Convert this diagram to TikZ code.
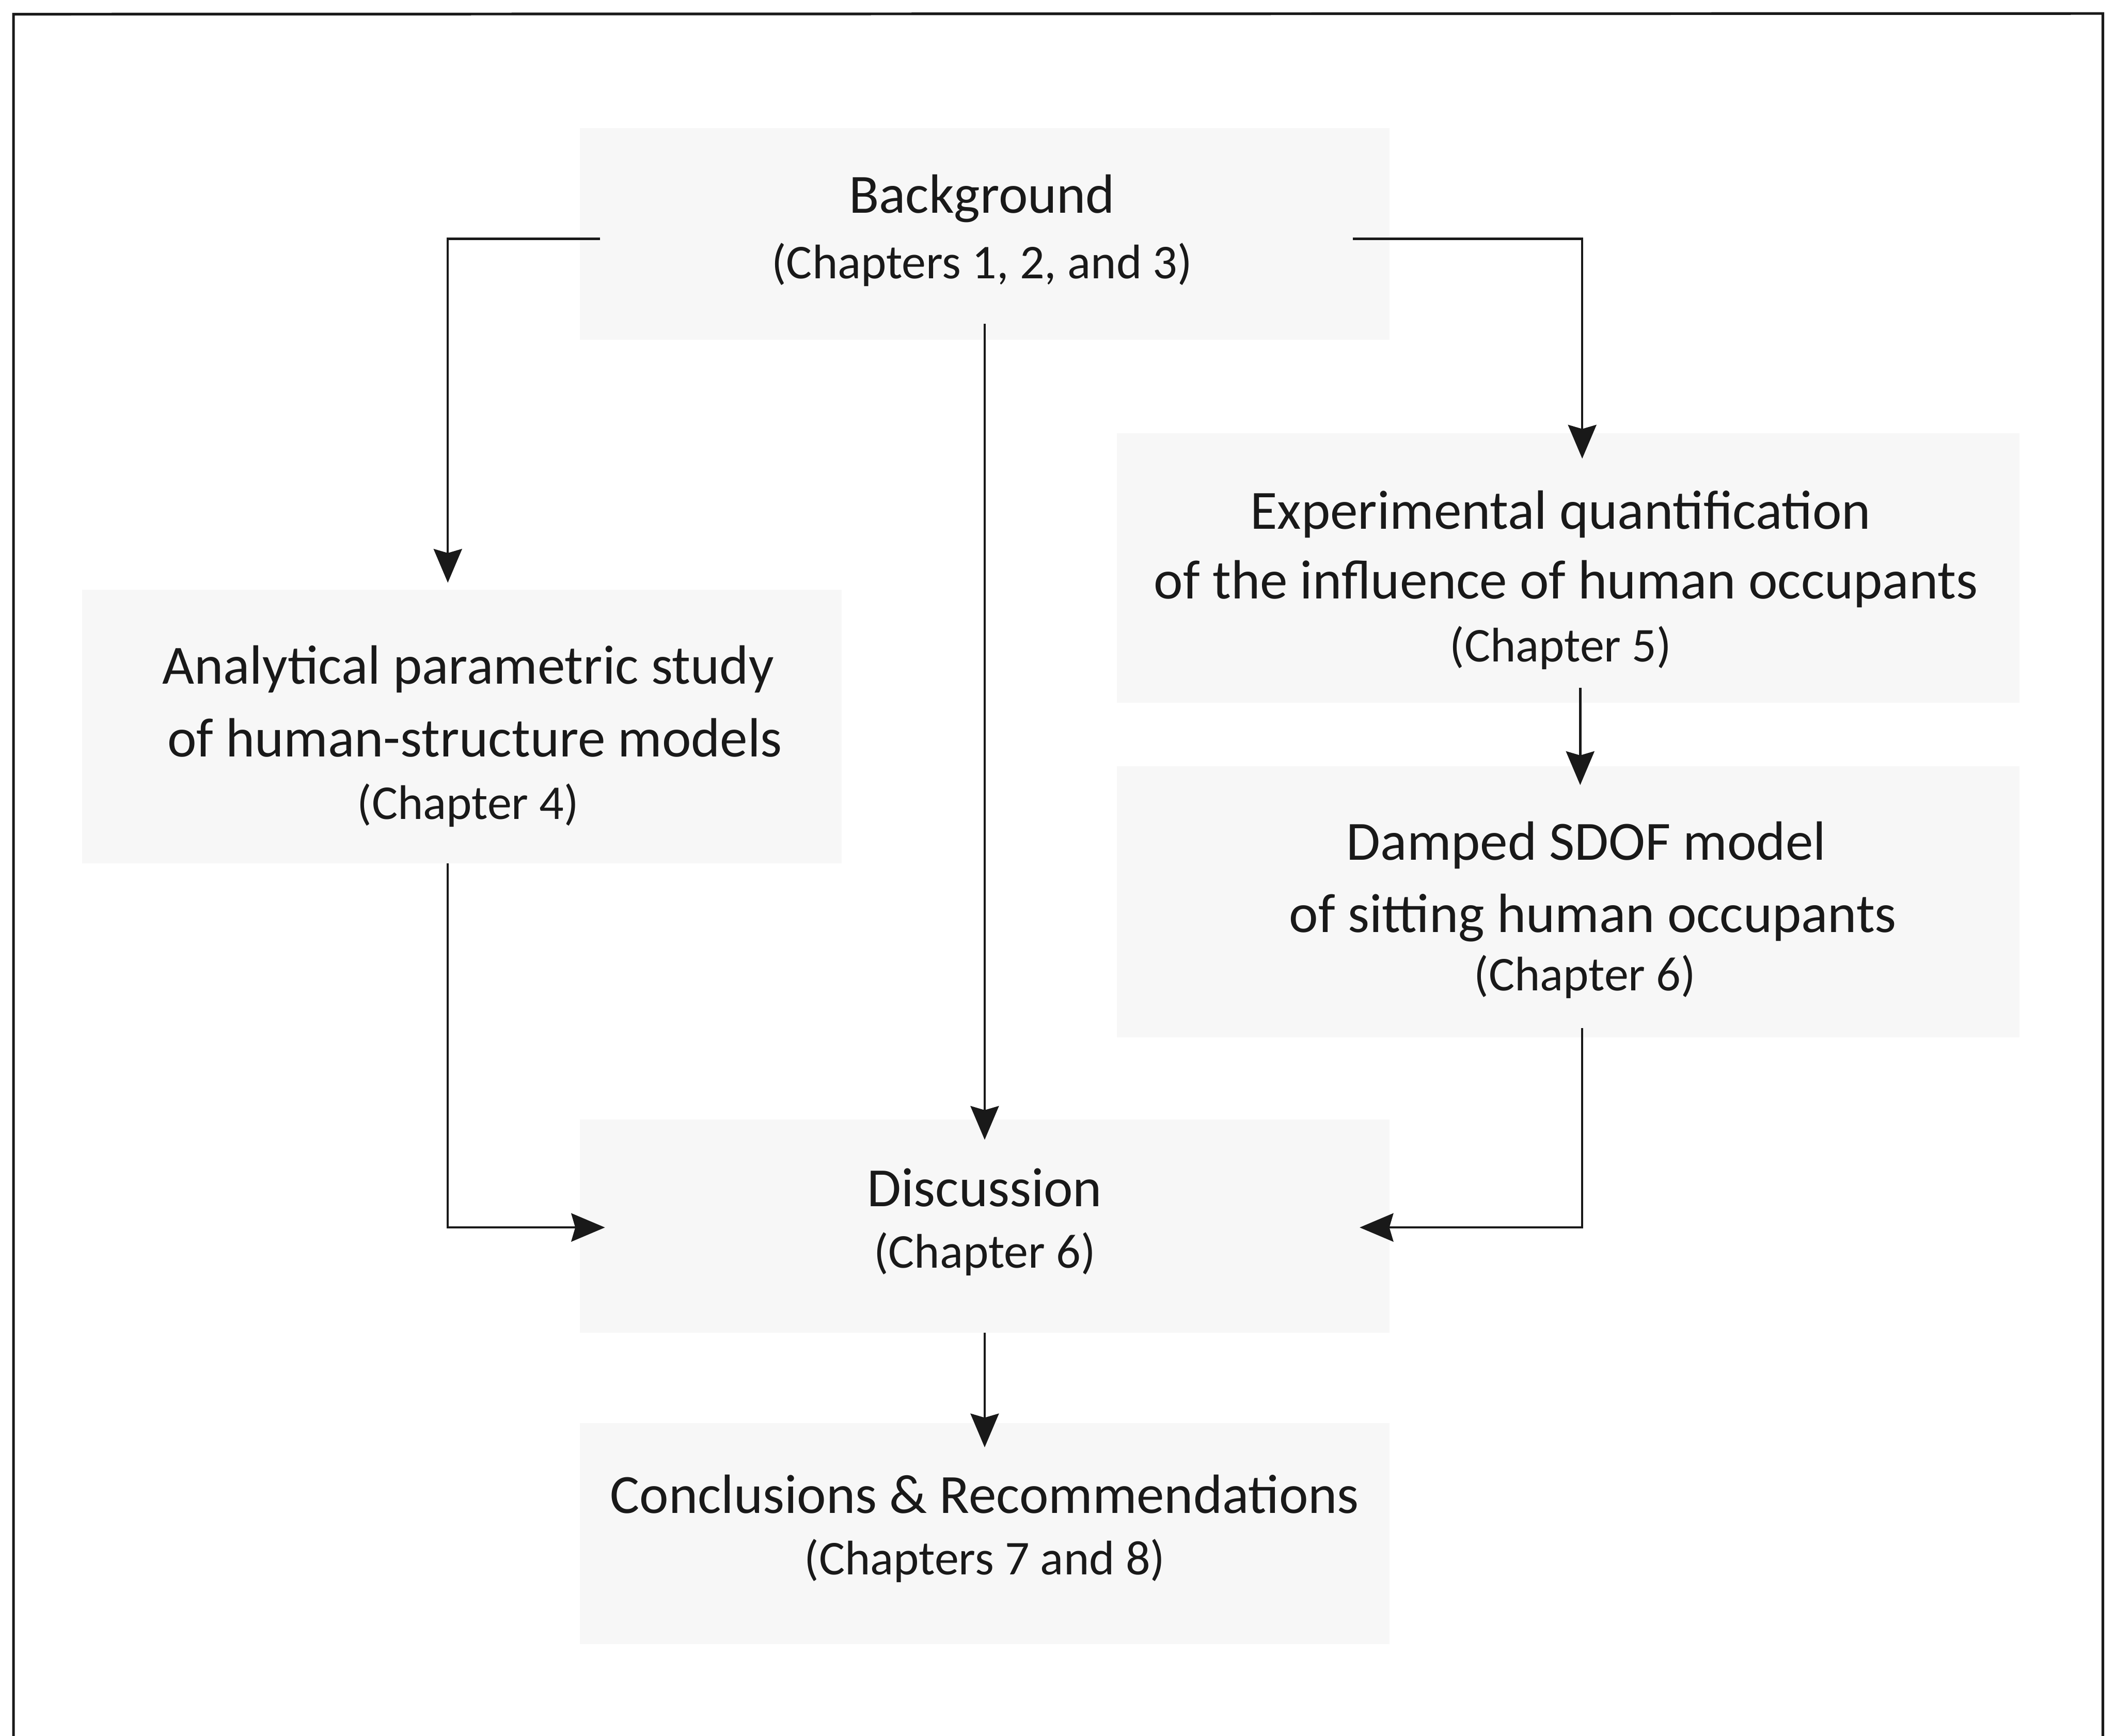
\documentclass[tikz,border=0pt]{standalone}
\usepackage{fontspec}
\setmainfont{Carlito}
\usetikzlibrary{arrows.meta,calc}
\definecolor{boxgray}{RGB}{247,247,247}
\definecolor{inkc}{RGB}{25,25,25}
\tikzset{
  boxnode/.style={draw=none,fill=boxgray,inner sep=0pt,outer sep=0pt},
  mainlbl/.style={inner sep=0pt,anchor=base,text=inkc,font=\fontsize{41}{41}\selectfont},
  chaplbl/.style={inner sep=0pt,anchor=base,text=inkc,font=\fontsize{36}{36}\selectfont},
  conn/.style={draw=inkc,line width=1.7pt,-{Stealth[length=25pt,width=21pt,inset=3pt]}},
  frameline/.style={draw=inkc,line width=2pt}
}
\begin{document}
\begin{tikzpicture}[x=1pt,y=-1pt]
\useasboundingbox (0,0) rectangle (1568,1287);
% frame (open at the bottom)
\draw[frameline] (10,1295) -- (10,10.5) -- (1559,10) -- (1559,1295);
% boxes
\node[boxnode,minimum width=600pt,minimum height=157pt] (bg)  at (730,173.5) {};
\node[boxnode,minimum width=563pt,minimum height=203pt] (ana) at (342.5,538.5) {};
\node[boxnode,minimum width=669pt,minimum height=200pt] (exp) at (1162.5,421) {};
\node[boxnode,minimum width=669pt,minimum height=201pt] (dmp) at (1162.5,668.5) {};
\node[boxnode,minimum width=600pt,minimum height=158pt] (dis) at (730,909) {};
\node[boxnode,minimum width=600pt,minimum height=164pt] (con) at (730,1137) {};
% texts
\node[mainlbl] (bgA) at (728,158) {Background};
\node[chaplbl] (bgB) at (728,206.5) {(Chapters 1, 2, and 3)};
\node[mainlbl] (anaA) at (347,507) {Analytical parametric study};
\node[mainlbl] (anaB) at (352,561) {of human-structure models};
\node[chaplbl] (anaC) at (347,607.5) {(Chapter 4)};
\node[mainlbl] (expA) at (1157,392) {Experimental quantification};
\node[mainlbl] (expB) at (1161,444) {of the influence of human occupants};
\node[chaplbl] (expC) at (1157,490.5) {(Chapter 5)};
\node[mainlbl] (dmpA) at (1176,637.5) {Damped SDOF model};
\node[mainlbl] (dmpB) at (1181,691) {of sitting human occupants};
\node[chaplbl] (dmpC) at (1175,734.5) {(Chapter 6)};
\node[mainlbl] (disA) at (730,894.5) {Discussion};
\node[chaplbl] (disB) at (730,940) {(Chapter 6)};
\node[mainlbl] (conA) at (730,1122) {Conclusions \& Recommendations};
\node[chaplbl] (conB) at (730,1167.5) {(Chapters 7 and 8)};
% connectors
\draw[conn] ([shift={(15,3.5)}]bg.west) -| ([shift={(-10.5,-5)}]ana.north);
\draw[conn] ([shift={(-27,3.5)}]bg.east) -| ([shift={(10.5,19)}]exp.north);
\draw[conn] ([shift={(0,-12)}]bg.south) -- ([shift={(0,15)}]dis.north);
\draw[conn] ([shift={(-10.5,0)}]ana.south) |- ([shift={(18.5,1)}]dis.west);
\draw[conn] ([shift={(10.5,-7)}]dmp.south) |- ([shift={(-22,1)}]dis.east);
\draw[conn] ([shift={(9,-11)}]exp.south) -- ([shift={(9,14)}]dmp.north);
\draw[conn] (dis.south) -- ([shift={(0,18)}]con.north);
\end{tikzpicture}
\end{document}
